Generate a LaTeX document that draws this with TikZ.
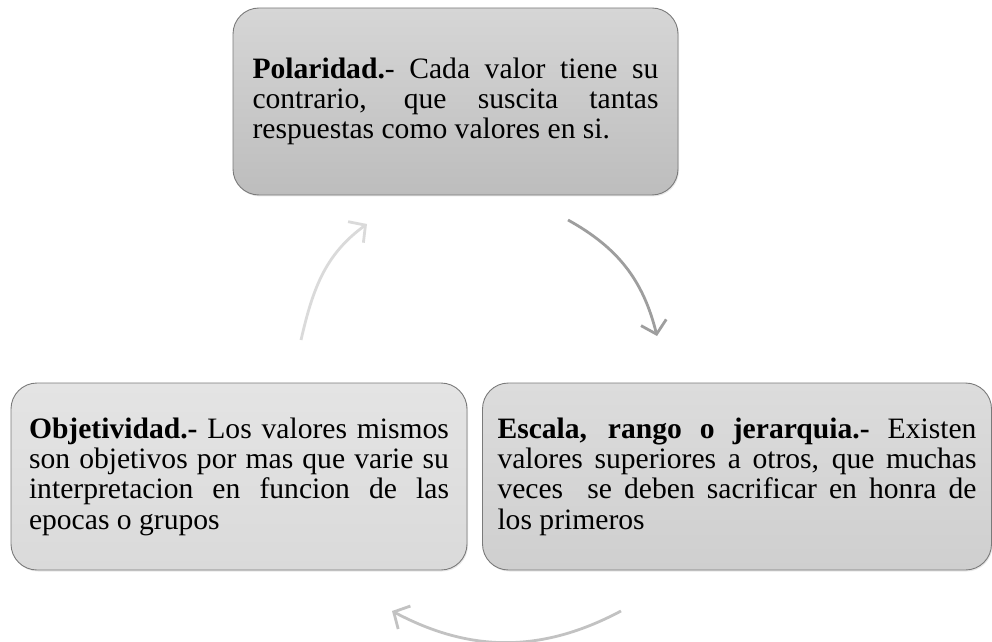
\documentclass[tikz,border=0pt]{standalone}
\usepackage{fontspec}
\setmainfont{Liberation Serif}
\usetikzlibrary{arrows.meta,shadows}
\definecolor{boxline}{HTML}{7A7A7A}
\definecolor{topA}{HTML}{D6D6D6}
\definecolor{topB}{HTML}{BDBDBD}
\definecolor{leftA}{HTML}{E4E4E4}
\definecolor{leftB}{HTML}{DADADA}
\definecolor{rightA}{HTML}{DCDCDC}
\definecolor{rightB}{HTML}{CFCFCF}
\definecolor{arrowA}{HTML}{9E9E9E}
\definecolor{arrowB}{HTML}{C2C2C2}
\definecolor{arrowC}{HTML}{DADADA}
\newcommand{\jline}[2]{\hbox to #1{#2}}
\newcommand{\lastline}[2]{\hbox to #1{#2\hfil}}
\begin{document}
\begin{tikzpicture}[x=1pt,y=1pt,
  cyclebox/.style={draw=boxline, line width=0.9pt, rounded corners=26pt,
    minimum height=187pt, inner sep=0pt,
    font=\fontsize{29.6}{30.3}\selectfont,
    drop shadow={opacity=0.18, shadow xshift=1pt, shadow yshift=-1.5pt}},
  cyclearrow/.style={line width=2.8pt, -{Straight Barb[length=12pt,width=26pt]}}
]
\useasboundingbox (0,0) rectangle (992,641);

\node[cyclebox, minimum width=445pt, top color=topA, bottom color=topB]
  (polar) at (455.5,539.5)
  {\vbox{\jline{406pt}{\textbf{Polaridad.}- Cada valor tiene su}
   \jline{406pt}{contrario, que suscita tantas}
   \lastline{406pt}{respuestas como valores en si.}}};

\node[cyclebox, minimum width=456pt, top color=leftA, bottom color=leftB]
  (objet) at (239,164.5)
  {\vbox{\jline{420pt}{\textbf{Objetividad.-} Los valores mismos}
   \jline{420pt}{son objetivos por mas que varie su}
   \jline{420pt}{interpretacion en funcion de las}
   \lastline{420pt}{epocas o grupos}}};

\node[cyclebox, minimum width=509pt, top color=rightA, bottom color=rightB]
  (escala) at (737,164.5)
  {\vbox{\jline{479pt}{\textbf{Escala, rango o jerarquia.-} Existen}
   \jline{479pt}{valores superiores a otros, que muchas}
   \jline{479pt}{veces\ \ se deben sacrificar en honra de}
   \lastline{479pt}{los primeros}}};

\coordinate (a1s) at (568,421);
\coordinate (a1e) at (657,305);
\coordinate (a2s) at (621,30);
\coordinate (a2e) at (392,30);
\coordinate (a3s) at (301,301);
\coordinate (a3e) at (367,417);

\draw[cyclearrow, draw=arrowA] (a1s) to[out=-29,in=104] (a1e);
\draw[cyclearrow, draw=arrowB] (a2s) to[out=208,in=-28] (a2e);
\draw[cyclearrow, draw=arrowC] (a3s) to[out=77,in=-144] (a3e);
\end{tikzpicture}
\end{document}
